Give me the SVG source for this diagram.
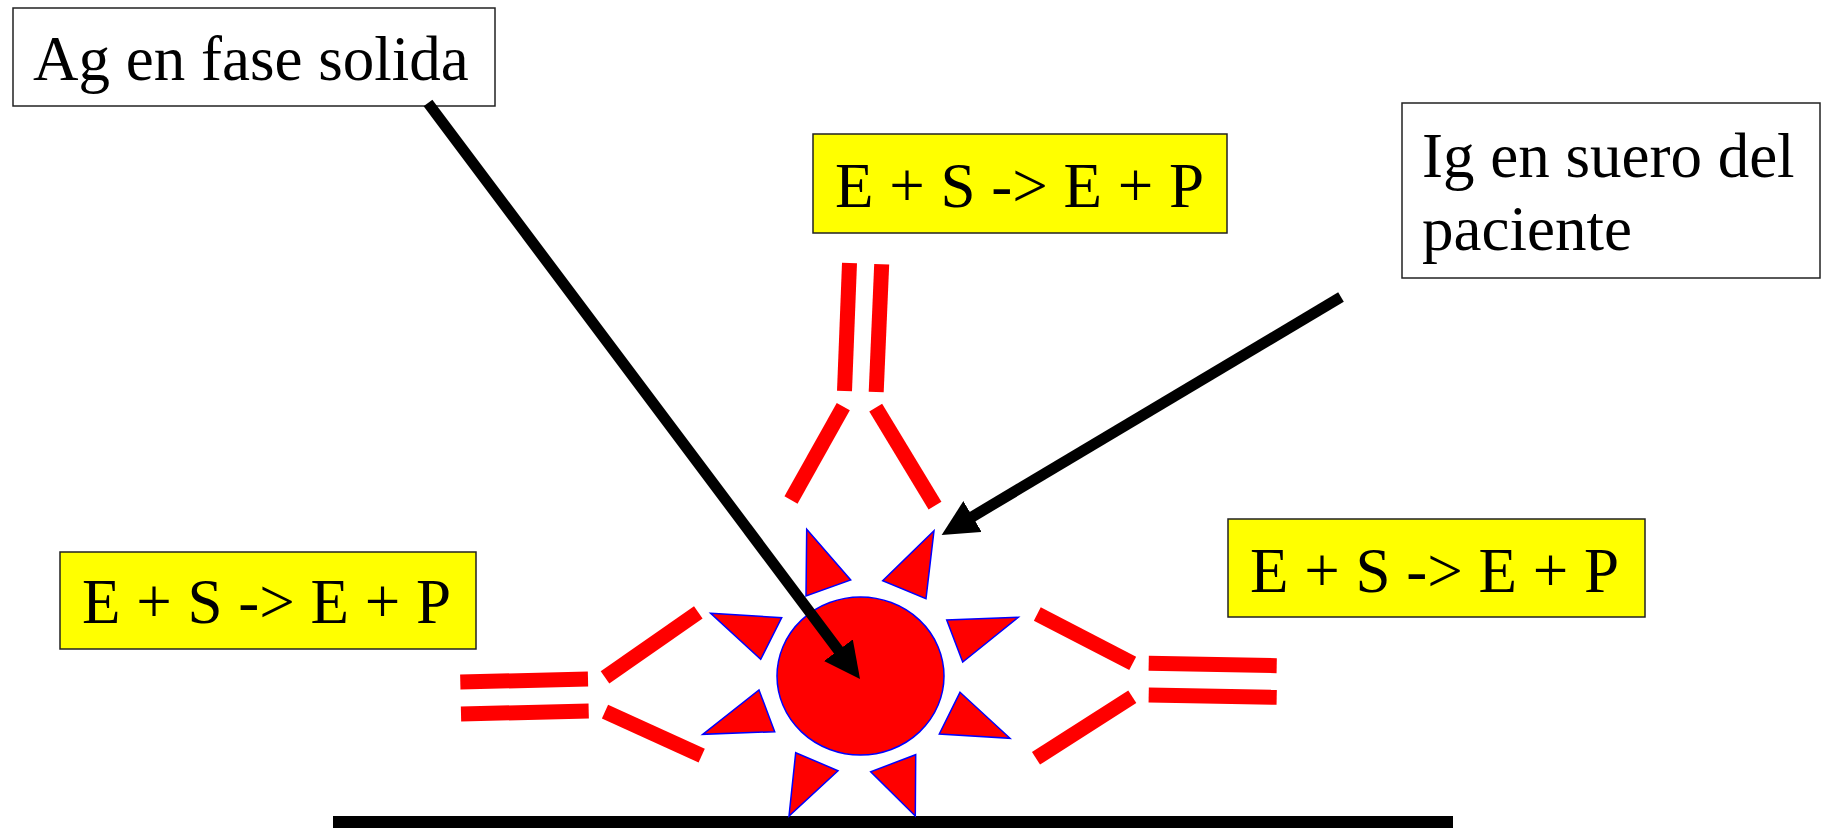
<svg xmlns="http://www.w3.org/2000/svg" width="1824" height="828" viewBox="0 0 1824 828">
  <defs>
    <style>
      .label { font-family: "Liberation Serif", "Times New Roman", serif; font-size: 63px; fill: #000; }
      .box { fill: #fff; stroke: #222; stroke-width: 1.5; }
      .ybox { fill: #ffff00; stroke: #222; stroke-width: 1.5; }
      .ab { stroke: #ff0000; stroke-width: 15; stroke-linecap: butt; fill: none; }
      .tri { fill: #ff0000; stroke: #0000ff; stroke-width: 1.5; stroke-linejoin: miter; }
      .conn { stroke: #000; stroke-width: 11; fill: none; }
    </style>
    <!-- arrowhead: tip sits 26 units past the line end -->
    <marker id="head" markerUnits="userSpaceOnUse" markerWidth="36" markerHeight="36" viewBox="0 0 36 36" refX="10" refY="18" orient="auto">
      <path d="M0,0 L36,18 L0,36 Z" fill="#000"/>
    </marker>
  </defs>

  <rect width="1824" height="828" fill="#fff"/>

  <!-- label: antigen on solid phase -->
  <g id="ag-label">
    <rect class="box" x="13" y="8" width="482" height="98"/>
    <text class="label" x="33" y="80">Ag en fase solida</text>
  </g>

  <!-- label: patient serum immunoglobulin -->
  <g id="ig-label">
    <rect class="box" x="1402" y="103" width="418" height="175"/>
    <text class="label" x="1422" y="177">Ig en suero del</text>
    <text class="label" x="1422" y="250">paciente</text>
  </g>

  <!-- enzyme reaction labels -->
  <g id="reaction-top">
    <rect class="ybox" x="813" y="134" width="414" height="99"/>
    <text class="label" x="835" y="207">E + S -&gt; E + P</text>
  </g>
  <g id="reaction-left">
    <rect class="ybox" x="60" y="552" width="416" height="97"/>
    <text class="label" x="82" y="623">E + S -&gt; E + P</text>
  </g>
  <g id="reaction-right">
    <rect class="ybox" x="1228" y="519" width="417" height="98"/>
    <text class="label" x="1250" y="592">E + S -&gt; E + P</text>
  </g>

  <!-- solid phase surface -->
  <g id="surface">
    <rect x="333" y="816" width="1120" height="12" fill="#000"/>
  </g>

  <!-- antigen particle with binding sites -->
  <g id="antigen">
    <ellipse cx="860.5" cy="676" rx="83.5" ry="79" fill="#ff0000" stroke="#0000ff" stroke-width="1.5"/>
    <polygon class="tri" points="806.7,529.3 850.7,580 806,596"/>
    <polygon class="tri" points="934,530.7 926,598.7 882.7,580.7"/>
    <polygon class="tri" points="710.7,613.3 781.7,617.7 760.7,659.3"/>
    <polygon class="tri" points="1018.3,617.3 946.7,620 962.7,662"/>
    <polygon class="tri" points="759,690 774.7,731.7 702.7,734.3"/>
    <polygon class="tri" points="960,692.3 1010,738.3 939.3,734"/>
    <polygon class="tri" points="795.7,752.7 838,770.7 789,816"/>
    <polygon class="tri" points="915.7,754.7 915.3,816 870.7,771.7"/>
  </g>

  <!-- enzyme-labelled antibodies -->
  <g id="antibody-top">
    <line class="ab" x1="849.5" y1="263" x2="844.5" y2="391"/>
    <line class="ab" x1="881.7" y1="264.3" x2="876.2" y2="392"/>
    <line class="ab" x1="843.3" y1="406.7" x2="791" y2="500"/>
    <line class="ab" x1="875.7" y1="407.7" x2="935" y2="505.7"/>
  </g>
  <g id="antibody-left">
    <line class="ab" x1="460.3" y1="682" x2="588" y2="679"/>
    <line class="ab" x1="461" y1="714" x2="588.7" y2="711"/>
    <line class="ab" x1="605" y1="677.3" x2="698.3" y2="612.3"/>
    <line class="ab" x1="605" y1="711.7" x2="701.7" y2="755.7"/>
  </g>
  <g id="antibody-right">
    <line class="ab" x1="1037.3" y1="614" x2="1132.7" y2="663.3"/>
    <line class="ab" x1="1036" y1="758.3" x2="1132.3" y2="696.7"/>
    <line class="ab" x1="1148.7" y1="663.3" x2="1276.7" y2="665.7"/>
    <line class="ab" x1="1148.7" y1="695" x2="1276.7" y2="697.3"/>
  </g>

  <!-- pointer arrows -->
  <g id="connectors">
    <line class="conn" x1="428" y1="103" x2="844.4" y2="658.2" marker-end="url(#head)"/>
    <line class="conn" x1="1341" y1="297" x2="964" y2="521.7" marker-end="url(#head)"/>
  </g>
</svg>
